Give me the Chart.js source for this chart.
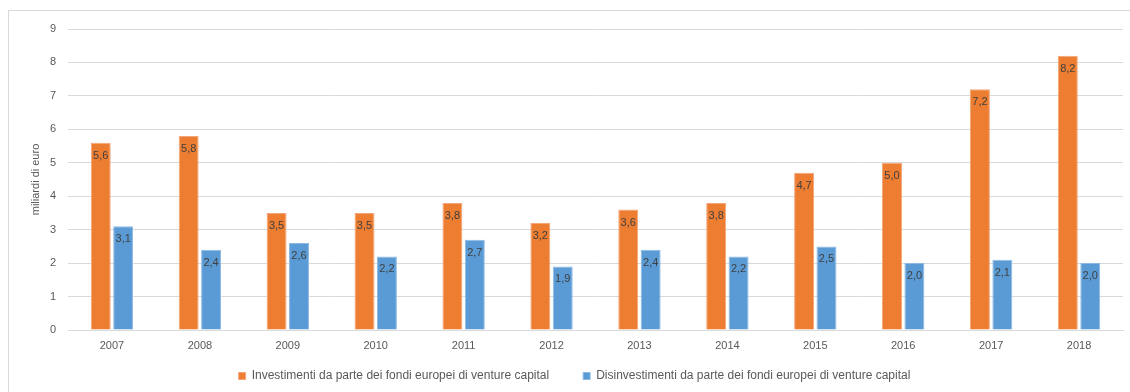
<!DOCTYPE html>
<html>
<head>
<meta charset="utf-8">
<script src="https://cdn.jsdelivr.net/npm/chart.js@4"></script>
<style>
  html, body { margin: 0; padding: 0; background: #fff; overflow: hidden; }
  #frame { position: absolute; left: 8px; top: 10px; width: 1200px; height: 500px; border: 1px solid #d9d9d9; }
  #wrap { position: absolute; left: 0; top: 0; width: 1130px; height: 392px; }
</style>
</head>
<body>
<div id="frame"></div>
<div id="wrap"><canvas id="myChart"></canvas></div>
<script>
const years = ['2007', '2008', '2009', '2010', '2011', '2012', '2013', '2014', '2015', '2016', '2017', '2018'];
const investimenti = [5.6, 5.8, 3.5, 3.5, 3.8, 3.2, 3.6, 3.8, 4.7, 5.0, 7.2, 8.2];
const disinvestimenti = [3.1, 2.4, 2.6, 2.2, 2.7, 1.9, 2.4, 2.2, 2.5, 2.0, 2.1, 2.0];
const yTicks = [0, 1, 2, 3, 4, 5, 6, 7, 8, 9];

const FONT = '"Liberation Sans", Arial, sans-serif';

// value labels drawn just inside the top of each bar, Italian decimal comma
const barLabels = {
  id: 'barLabels',
  afterDatasetsDraw(chart) {
    const ctx = chart.ctx;
    ctx.save();
    ctx.font = '11px ' + FONT;
    ctx.fillStyle = '#404040';
    ctx.textAlign = 'center';
    ctx.textBaseline = 'middle';
    chart.data.datasets.forEach((ds, i) => {
      chart.getDatasetMeta(i).data.forEach((bar, j) => {
        const txt = ds.data[j].toFixed(1).replace('.', ',');
        ctx.fillText(txt, bar.x, bar.y + 13);
      });
    });
    ctx.restore();
  }
};

function displayChart() {
  const ctx = document.getElementById('myChart');
  return new Chart(ctx, {
    type: 'bar',
    data: {
      labels: years,
      datasets: [{
        label: 'Investimenti da parte dei fondi europei di venture capital',
        data: investimenti,
        backgroundColor: '#ED7D31',
        borderColor: '#F4A57A',
        borderWidth: 1,
        categoryPercentage: 0.51,
        barPercentage: 0.89
      }, {
        label: 'Disinvestimenti da parte dei fondi europei di venture capital',
        data: disinvestimenti,
        backgroundColor: '#5B9BD5',
        borderColor: '#8DBAE3',
        borderWidth: 1,
        categoryPercentage: 0.51,
        barPercentage: 0.89
      }]
    },
    options: {
      responsive: true,
      maintainAspectRatio: false,
      animation: false,
      layout: { padding: { left: 26, right: 7, top: 29, bottom: 0 } },
      plugins: {
        tooltip: { enabled: false },
        legend: {
          position: 'bottom',
          labels: {
            boxWidth: 7,
            boxHeight: 7,
            padding: 10,
            color: '#595959',
            font: { family: FONT, size: 12 },
            // wider gap after the first entry than the vertical padding allows
            generateLabels(chart) {
              const items = Chart.defaults.plugins.legend.labels.generateLabels(chart);
              items[0].text += '\u2003\u2003';
              return items;
            }
          }
        }
      },
      scales: {
        x: {
          afterFit(scale) { scale.height = 30; },
          grid: { display: false },
          border: { color: '#d9d9d9' },
          ticks: { color: '#595959', font: { family: FONT, size: 11 }, padding: 1 }
        },
        y: {
          min: 0,
          max: 9,
          afterBuildTicks(scale) { scale.ticks = yTicks.map(v => ({ value: v })); },
          afterFit(scale) { scale.width = 42; },
          grid: { color: '#d9d9d9', drawTicks: false },
          border: { display: false },
          ticks: { color: '#595959', font: { family: FONT, size: 11 }, padding: 12 },
          title: {
            display: true,
            text: 'miliardi di euro',
            color: '#595959',
            font: { family: FONT, size: 11 },
            padding: { top: 3, bottom: 0 }
          }
        }
      }
    },
    plugins: [barLabels]
  });
}

displayChart();
</script>
</body>
</html>
